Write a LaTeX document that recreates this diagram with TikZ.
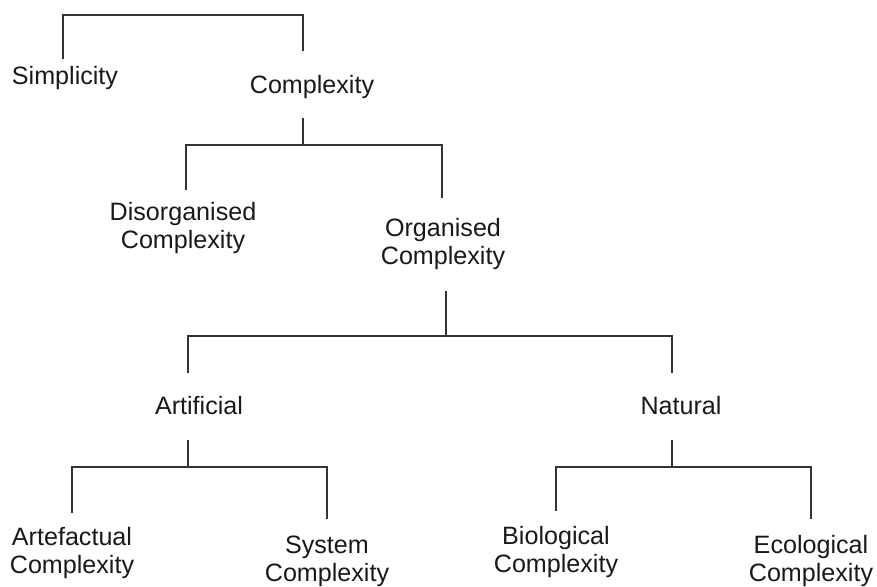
\documentclass[tikz,border=0pt]{standalone}
\usepackage{fontspec}
\setmainfont{Liberation Sans}
\usetikzlibrary{positioning, calc}

\begin{document}
\begin{tikzpicture}[
    x=0.02cm, y=-0.02cm,
    term/.style={anchor=base, align=center, inner sep=0pt, text=black!90,
        font=\fontsize{14.3}{15.4}\selectfont},
    link/.style={draw=black!80, line width=1.1pt}
]
\useasboundingbox (0,0) rectangle (877,586);

%% Labels (two-line labels sit on the baseline of their last line)
\node[term] (simp)  at ( 65, 84) {Simplicity};
\node[term] (cplx)  at (312, 93) {Complexity};
\node[term] (dis)   at (183,248) {Disorganised\\Complexity};
\node[term] (org)   at (443,264) {Organised\\Complexity};
\node[term] (art)   at (199,414) {Artificial};
\node[term] (nat)   at (681,414) {Natural};
\node[term] (artef) at ( 72,573) {Artefactual\\Complexity};
\node[term] (sys)   at (327,581) {System\\Complexity};
\node[term] (bio)   at (556,572) {Biological\\Complexity};
\node[term] (eco)   at (811,581) {Ecological\\Complexity};

%% Line ends and junctions
\coordinate (root)      at (183, 15);
\coordinate (simp-top)  at ( 63, 59);
\coordinate (cplx-top)  at (303, 51);
\coordinate (cplx-bot)  at (303,118);
\coordinate (j1)        at (303,145);
\coordinate (dis-top)   at (186,190);
\coordinate (org-top)   at (442,198);
\coordinate (org-bot)   at (446,291);
\coordinate (j2)        at (446,336);
\coordinate (art-top)   at (188,373);
\coordinate (nat-top)   at (672,373);
\coordinate (art-bot)   at (188,440);
\coordinate (j3)        at (188,467);
\coordinate (artef-top) at ( 72,513);
\coordinate (sys-top)   at (327,519);
\coordinate (nat-bot)   at (672,440);
\coordinate (j4)        at (672,467);
\coordinate (bio-top)   at (556,511);
\coordinate (eco-top)   at (811,519);

%% ── Simplicity / Complexity ──────────────────────────────
\draw[link] (simp-top) -- (simp-top |- root) -- (cplx-top |- root) -- (cplx-top);

%% ── Complexity ───────────────────────────────────────────
\draw[link] (cplx-bot) -- (j1);
\draw[link] (dis-top) |- (j1) -| (org-top);

%% ── Organised Complexity ─────────────────────────────────
\draw[link] (org-bot) -- (j2);
\draw[link] (art-top) |- (j2) -| (nat-top);

%% ── Artificial ───────────────────────────────────────────
\draw[link] (art-bot) -- (j3);
\draw[link] (artef-top) |- (j3) -| (sys-top);

%% ── Natural ──────────────────────────────────────────────
\draw[link] (nat-bot) -- (j4);
\draw[link] (bio-top) |- (j4) -| (eco-top);

\end{tikzpicture}
\end{document}
